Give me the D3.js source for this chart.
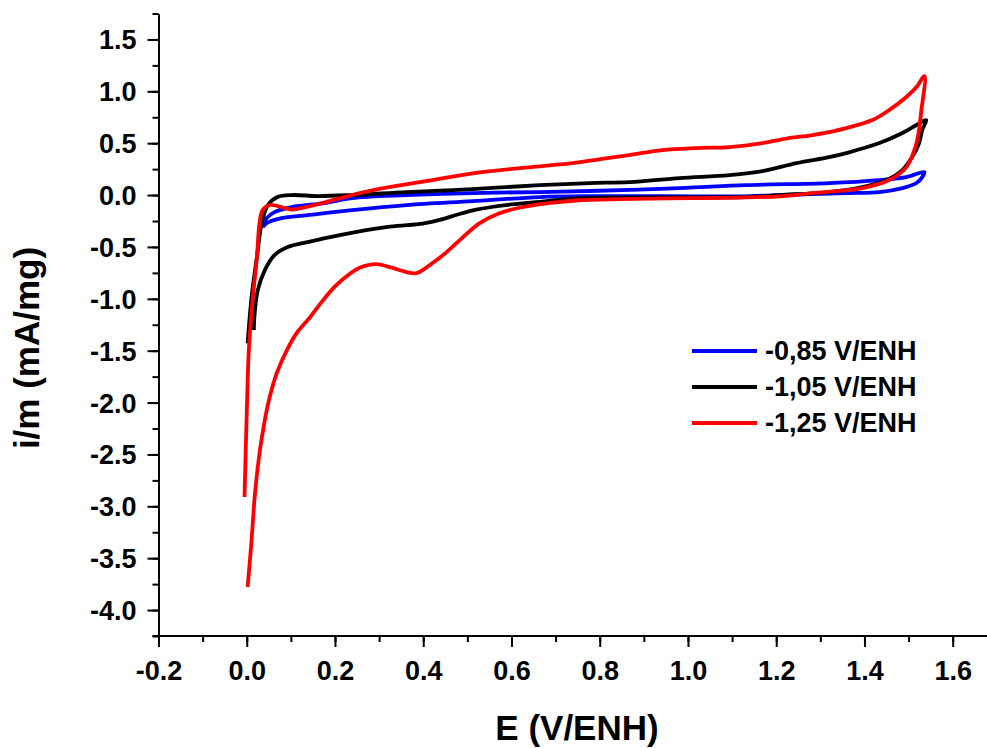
<!DOCTYPE html>
<html>
<head>
<meta charset="utf-8">
<script src="https://cdn.jsdelivr.net/npm/d3@7"></script>
<style>
  body { margin: 0; background: #fff; }
  svg text { font-family: "Liberation Sans", Arial, sans-serif; font-weight: bold; }
</style>
</head>
<body>
<div class="container"></div>
<script>
// cyclic voltammograms, [E (V/ENH), i/m (mA/mg)]
const seriesNames = ["-0,85 V/ENH", "-1,05 V/ENH", "-1,25 V/ENH"]
const seriesColors = ["#0000ff", "#000000", "#ff0000"]

const cv085 = [
    [0.036, -0.30], [0.045, -0.222], [0.063, -0.164], [0.102, -0.116], [0.177, -0.077],
    [0.238, -0.029], [0.362, 0.0], [0.512, 0.019], [0.664, 0.029], [0.777, 0.039],
    [0.981, 0.067], [1.132, 0.096], [1.320, 0.116], [1.434, 0.145], [1.495, 0.173],
    [1.536, 0.222],
    [1.531, 0.173], [1.518, 0.116], [1.486, 0.067], [1.434, 0.029], [1.359, 0.019],
    [1.207, 0.0], [1.132, -0.012], [0.777, -0.01], [0.664, -0.019], [0.512, -0.058],
    [0.362, -0.096], [0.238, -0.145], [0.138, -0.193], [0.079, -0.222], [0.045, -0.270],
    [0.036, -0.31]
]

const cv105 = [
    [0.002, -1.43], [0.011, -0.983], [0.023, -0.598], [0.034, -0.270], [0.048, -0.096],
    [0.070, -0.019], [0.102, 0.0], [0.161, -0.01], [0.238, 0.0], [0.362, 0.029],
    [0.512, 0.058], [0.664, 0.096], [0.777, 0.116], [0.867, 0.125], [0.981, 0.164],
    [1.094, 0.193], [1.169, 0.231], [1.246, 0.308], [1.320, 0.366], [1.359, 0.405],
    [1.434, 0.501], [1.486, 0.598], [1.518, 0.675], [1.540, 0.723],
    [1.531, 0.627], [1.524, 0.501], [1.508, 0.366], [1.486, 0.241], [1.450, 0.145],
    [1.395, 0.077], [1.320, 0.029], [1.207, 0.0], [1.132, -0.019], [0.754, -0.032],
    [0.664, -0.065], [0.60, -0.09], [0.52, -0.14], [0.476, -0.19], [0.437, -0.24],
    [0.399, -0.275], [0.324, -0.305], [0.211, -0.386], [0.138, -0.453], [0.093, -0.501],
    [0.063, -0.578], [0.041, -0.723], [0.025, -0.916], [0.018, -1.137], [0.016, -1.30]
]

const cv125 = [
    [-0.005, -2.91], [0.000, -2.10], [0.005, -1.47], [0.014, -0.98], [0.023, -0.60],
    [0.029, -0.27], [0.036, -0.145], [0.052, -0.096], [0.070, -0.106], [0.102, -0.14],
    [0.131, -0.118], [0.177, -0.07], [0.238, 0.0], [0.30, 0.06], [0.399, 0.13],
    [0.512, 0.21], [0.625, 0.262], [0.738, 0.308], [0.867, 0.386], [0.942, 0.434],
    [1.019, 0.453], [1.094, 0.463], [1.169, 0.501], [1.223, 0.545], [1.282, 0.578],
    [1.359, 0.646], [1.418, 0.723], [1.456, 0.819], [1.495, 0.945], [1.518, 1.041],
    [1.536, 1.147],
    [1.529, 0.819], [1.518, 0.501], [1.495, 0.270], [1.456, 0.145], [1.395, 0.067],
    [1.282, 0.019], [1.207, -0.012], [1.132, -0.022], [0.754, -0.05], [0.68, -0.08],
    [0.62, -0.12], [0.57, -0.18], [0.528, -0.27], [0.489, -0.41], [0.453, -0.55],
    [0.421, -0.655], [0.385, -0.752], [0.362, -0.742], [0.324, -0.694], [0.294, -0.665],
    [0.256, -0.70], [0.23, -0.77], [0.20, -0.88], [0.17, -1.03], [0.143, -1.18],
    [0.113, -1.330], [0.091, -1.494], [0.068, -1.716], [0.052, -1.947], [0.041, -2.169],
    [0.029, -2.487], [0.018, -2.911], [0.011, -3.325], [0.002, -3.778]
]

const xTicks = [-0.2, 0.0, 0.2, 0.4, 0.6, 0.8, 1.0, 1.2, 1.4, 1.6]
const yTicks = [-4.0, -3.5, -3.0, -2.5, -2.0, -1.5, -1.0, -0.5, 0.0, 0.5, 1.0, 1.5]

const width = 987, height = 748
const margin = ({ top: 13.5, right: 0, bottom: 112, left: 158.5 })

const x = d3.scaleLinear()
    .domain([-0.2, 1.68])
    .range([margin.left, width - margin.right + 1])

const y = d3.scaleLinear()
    .domain([-4.25, 1.75])
    .range([height - margin.bottom, margin.top])

const svg = d3.select(".container").append("svg")
    .attr("width", width)
    .attr("height", height)
    .attr("viewBox", [0, 0, width, height])

// minor ticks first, then the labelled ones
const xMinor = d3.range(-0.2, 1.69, 0.1)
const yMinor = d3.range(-4.25, 1.76, 0.25)

const gx = svg.append("g")
    .attr("transform", `translate(0,${y(-4.25)})`)
gx.append("g")
    .call(d3.axisBottom(x).tickValues(xMinor).tickSize(6).tickFormat(""))
    .call(g => g.select(".domain").remove())
gx.append("g")
    .call(d3.axisBottom(x).tickValues(xTicks).tickSize(11).tickSizeOuter(0)
        .tickFormat(d => d.toFixed(1)))
    .call(g => g.select(".domain").attr("d", `M${margin.left - 6},0H${width}`))
gx.selectAll("line, path").attr("stroke", "#000").attr("stroke-width", 2)
gx.selectAll("text")
    .attr("y", 44).attr("dy", 0)
    .attr("fill", "#000")
    .style("font-size", "27px")

const gy = svg.append("g")
    .attr("transform", `translate(${x(-0.2)},0)`)
gy.append("g")
    .call(d3.axisLeft(y).tickValues(yMinor).tickSize(6).tickFormat(""))
    .call(g => g.select(".domain").remove())
gy.append("g")
    .call(d3.axisLeft(y).tickValues(yTicks).tickSize(11).tickSizeOuter(0)
        .tickFormat(d => d.toFixed(1)))
gy.selectAll("line, path").attr("stroke", "#000").attr("stroke-width", 2)
gy.selectAll("text")
    .attr("x", -22).attr("dy", "0.35em")
    .attr("fill", "#000")
    .style("font-size", "27px")

// axis titles
svg.append("text")
    .attr("x", 577).attr("y", 740)
    .attr("text-anchor", "middle")
    .style("font-size", "35px")
    .text("E (V/ENH)")

svg.append("text")
    .attr("transform", `translate(39,348) rotate(-90)`)
    .attr("text-anchor", "middle")
    .style("font-size", "35px")
    .text("i/m (mA/mg)")

// curves
const line = d3.line()
    .x(d => x(d[0]))
    .y(d => y(d[1]))
    .curve(d3.curveCatmullRom.alpha(0.5))

const allSeries = [cv085, cv105, cv125]

svg.append("g")
    .selectAll("path")
    .data(allSeries)
    .join("path")
    .attr("fill", "none")
    .attr("stroke", (d, i) => seriesColors[i])
    .attr("stroke-width", 3.8)
    .attr("stroke-linejoin", "round")
    .attr("d", line)

// legend
const legend = svg.append("g")
    .attr("transform", "translate(692,351)")
    .selectAll("g")
    .data(seriesNames)
    .join("g")
    .attr("transform", (d, i) => `translate(0,${i * 36})`)
legend.append("line")
    .attr("x1", 0).attr("x2", 65)
    .attr("stroke", (d, i) => seriesColors[i])
    .attr("stroke-width", 3.8)
legend.append("text")
    .attr("x", 73).attr("dy", "0.35em")
    .style("font-size", "27px")
    .text(d => d)
</script>
</body>
</html>
